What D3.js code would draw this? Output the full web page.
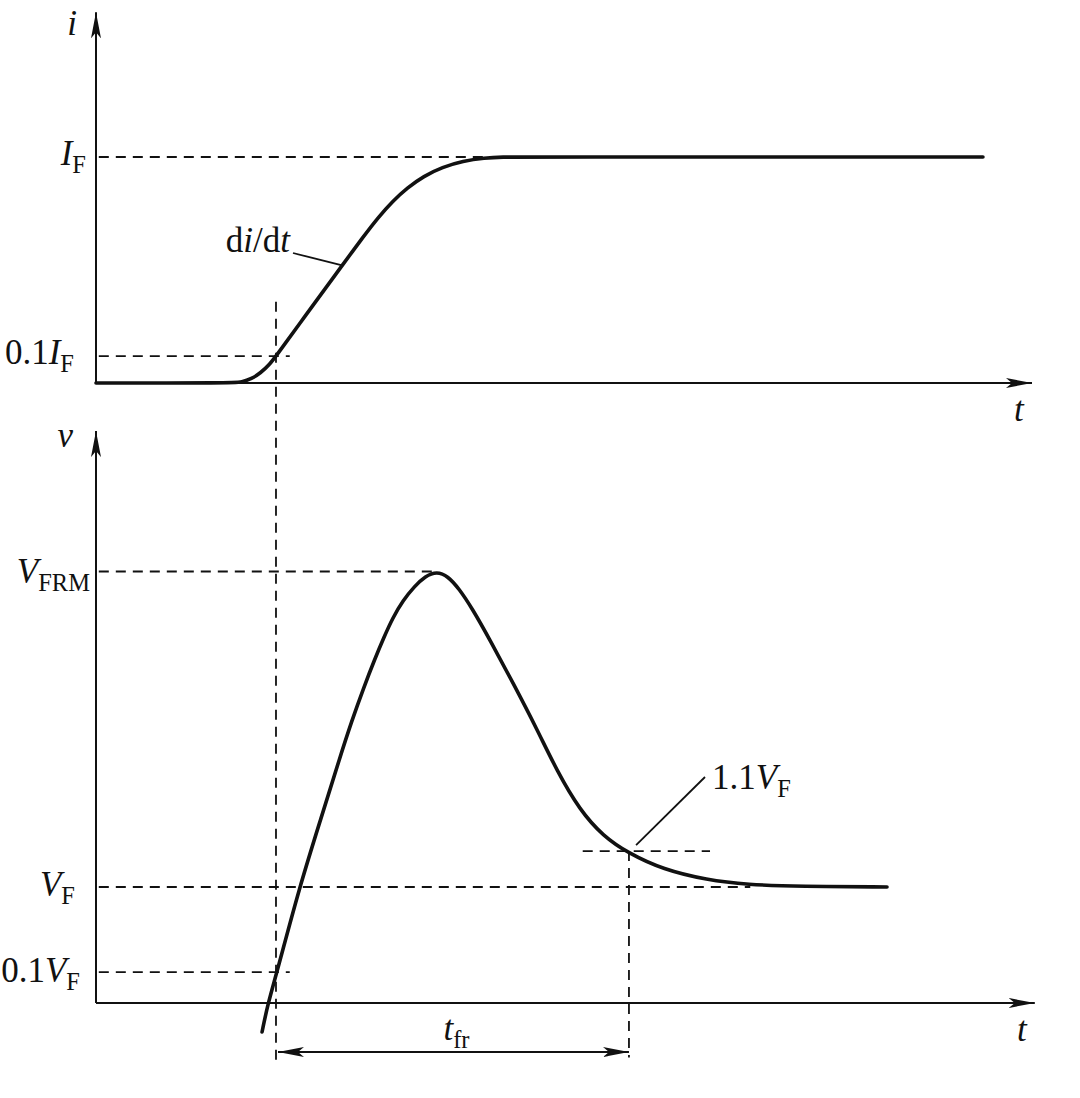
<!DOCTYPE html>
<html>
<head>
<meta charset="utf-8">
<script src="https://cdn.jsdelivr.net/npm/d3@7"></script>
<style>
  html, body { margin: 0; padding: 0; background: #fff; }
  svg { display: block; }
  text { font-family: "Liberation Serif", "DejaVu Serif", serif; fill: #111; }
</style>
</head>
<body>
<svg id="chart" width="1080" height="1098"></svg>
<script>
// ---------------- data (time in arbitrary units, 0..100 along the t axis) ----------------
// current waveform i(t), normalised to I_F = 1
const currentT = [0, 14.5, 15.6, 16.6, 17.6, 18.5, 19.23, 21.79, 24.68, 26.07, 28.53, 30.2, 31.7, 33.3, 35.0, 37.0, 39.2, 41.5, 43.5, 45.5, 94.76];
const currentI = [0, 0, 0.004, 0.018, 0.045, 0.08, 0.119, 0.265, 0.428, 0.507, 0.646, 0.735, 0.805, 0.865, 0.915, 0.955, 0.982, 0.996, 1, 1, 1];

// voltage waveform v(t), normalised to V_F = 1
const voltageT = [17.74, 18.38, 19.34, 21.7, 24.11, 26.07, 27.32, 28.56, 29.81, 30.75, 31.7, 32.8, 34.0, 35.2, 36.4, 37.6, 38.8, 40.2, 42.09, 44.55, 47.12, 49.25, 51.71, 54.17, 56.84, 60.58, 65.28, 69.55, 75.21, 84.51];
const voltageV = [-0.25, 0, 0.267, 0.99, 1.61, 2.12, 2.43, 2.71, 2.97, 3.15, 3.32, 3.47, 3.59, 3.68, 3.72, 3.68, 3.57, 3.40, 3.13, 2.76, 2.36, 2.00, 1.66, 1.44, 1.293, 1.15, 1.06, 1.02, 1.005, 1.0];

// reference levels (tick labels) of the current panel
const iLevelNames  = ["I_F", "0.1I_F"];
const iLevelValues = [1, 0.119];
const iLevelEndT   = [43.16, 20.7];

// reference levels (tick labels) of the voltage panel
const vLevelNames  = ["V_FRM", "V_F", "0.1V_F"];
const vLevelValues = [3.72, 1, 0.267];
const vLevelEndT   = [36.4, 69.9, 20.7];

// 1.1 V_F marker
const v11Level = 1.31;
const v11Range = [52.0, 65.6];

// forward recovery time interval
const tfrStart = 19.23;
const tfrEnd   = 56.94;

// axis extents
const iAxisMax = 1.64;
const vAxisMax = 4.93;

// ---------------- scales ----------------
const svg = d3.select("#chart");
svg.append("rect").attr("width", 1080).attr("height", 1098).attr("fill", "#fff");

const x  = d3.scaleLinear().domain([0, 100]).range([96, 1032]);
const yI = d3.scaleLinear().domain([0, 1]).range([383, 157]);
const yV = d3.scaleLinear().domain([0, 1]).range([1003, 887]);

const ink = "#111";

// arrow marker
const defs = svg.append("defs");
defs.append("marker")
  .attr("id", "arr")
  .attr("viewBox", "0 0 26 12")
  .attr("refX", 26).attr("refY", 6)
  .attr("markerWidth", 26).attr("markerHeight", 12)
  .attr("markerUnits", "userSpaceOnUse")
  .attr("orient", "auto-start-reverse")
  .append("path")
  .attr("d", "M0,1 L26,6 L0,11 L6,6 Z")
  .attr("fill", ink);

// ---------------- helpers ----------------
function label(g, px, py, anchor, parts, size) {
  const fs = size || 35;
  const t = g.append("text")
    .attr("x", px).attr("y", py)
    .attr("text-anchor", anchor)
    .attr("font-size", fs);
  let shift = 0;
  parts.forEach(p => {
    const ts = t.append("tspan").text(p.s);
    if (p.it) ts.attr("font-style", "italic");
    if (p.sub) {
      ts.attr("font-size", fs * 0.7).attr("dy", 8 - shift);
      shift = 8;
    } else if (shift) {
      ts.attr("dy", -shift);
      shift = 0;
    }
  });
  return t;
}
function parseName(name) {
  const m = name.match(/^([0-9.]*)([A-Za-z])_(.+)$/);
  const parts = [];
  if (m[1]) parts.push({ s: m[1] });
  parts.push({ s: m[2], it: true });
  parts.push({ s: m[3], sub: true });
  return parts;
}
function dashH(g, t0, t1, yPix) {
  g.append("line")
    .attr("x1", x(t0)).attr("x2", x(t1))
    .attr("y1", yPix).attr("y2", yPix)
    .attr("stroke", ink).attr("stroke-width", 1.8)
    .attr("stroke-dasharray", "10,7");
}
function dashV(g, t, y0, y1) {
  g.append("line")
    .attr("x1", x(t)).attr("x2", x(t))
    .attr("y1", y0).attr("y2", y1)
    .attr("stroke", ink).attr("stroke-width", 1.8)
    .attr("stroke-dasharray", "10,7");
}

const g = svg.append("g");

// ---------------- axes ----------------
g.append("line").attr("x1", x(0)).attr("y1", yI(0)).attr("x2", x(0)).attr("y2", yI(iAxisMax))
  .attr("stroke", ink).attr("stroke-width", 2).attr("marker-end", "url(#arr)");
g.append("line").attr("x1", x(0)).attr("y1", yI(0)).attr("x2", x(100)).attr("y2", yI(0))
  .attr("stroke", ink).attr("stroke-width", 2).attr("marker-end", "url(#arr)");
g.append("line").attr("x1", x(0)).attr("y1", yV(0)).attr("x2", x(0)).attr("y2", yV(vAxisMax))
  .attr("stroke", ink).attr("stroke-width", 2).attr("marker-end", "url(#arr)");
g.append("line").attr("x1", x(0)).attr("y1", yV(0)).attr("x2", x(100.3)).attr("y2", yV(0))
  .attr("stroke", ink).attr("stroke-width", 2).attr("marker-end", "url(#arr)");

// axis names
label(g, x(0) - 19, yI(iAxisMax) + 23, "end", [{ s: "i", it: true }]);
label(g, x(0) - 23, yV(vAxisMax) + 16, "end", [{ s: "v", it: true }]);
label(g, x(100) - 18, yI(0) + 38, "start", [{ s: "t", it: true }]);
label(g, x(100) - 15, yV(0) + 38, "start", [{ s: "t", it: true }]);

// ---------------- reference dashed lines ----------------
iLevelValues.forEach((v, k) => dashH(g, 0.3, iLevelEndT[k], yI(v)));
vLevelValues.forEach((v, k) => dashH(g, 0.3, vLevelEndT[k], yV(v)));
dashH(g, v11Range[0], v11Range[1], yV(v11Level));
dashV(g, tfrStart, yI(0.36), yV(-0.53));
dashV(g, tfrEnd, yV(v11Level), yV(-0.47));

// level labels
const iLabelX = [86, 74];
iLevelNames.forEach((n, k) => label(g, iLabelX[k], yI(iLevelValues[k]) + 8, "end", parseName(n)));
const vLabelX = [90, 75, 80];
const vLabelDy = [12, 9, 10];
vLevelNames.forEach((n, k) => label(g, vLabelX[k], yV(vLevelValues[k]) + vLabelDy[k], "end", parseName(n)));

// ---------------- curves ----------------
const lineI = d3.line().x((d, k) => x(currentT[k])).y(d => yI(d)).curve(d3.curveBasis);
g.append("path").attr("d", lineI(currentI))
  .attr("fill", "none").attr("stroke", ink).attr("stroke-width", 3.6)
  .attr("stroke-linejoin", "round").attr("stroke-linecap", "round");

const lineV = d3.line().x((d, k) => x(voltageT[k])).y(d => yV(d)).curve(d3.curveBasis);
g.append("path").attr("d", lineV(voltageV))
  .attr("fill", "none").attr("stroke", ink).attr("stroke-width", 3.6)
  .attr("stroke-linejoin", "round").attr("stroke-linecap", "round");

// ---------------- annotations ----------------
label(g, 290, 252, "end", [{ s: "d" }, { s: "i", it: true }, { s: "/d" }, { s: "t", it: true }]);
g.append("line").attr("x1", 293).attr("y1", 253).attr("x2", x(26.3)).attr("y2", yI(0.52))
  .attr("stroke", ink).attr("stroke-width", 1.8);

label(g, 712, 789, "start", [{ s: "1.1" }, { s: "V", it: true }, { s: "F", sub: true }]);
g.append("line").attr("x1", x(57.7)).attr("y1", yV(v11Level) - 6).attr("x2", 705).attr("y2", 777)
  .attr("stroke", ink).attr("stroke-width", 1.8);

const yArr = 1052;
g.append("line").attr("x1", x(tfrStart) + 2).attr("x2", x(tfrEnd)).attr("y1", yArr).attr("y2", yArr)
  .attr("stroke", ink).attr("stroke-width", 2)
  .attr("marker-start", "url(#arr)").attr("marker-end", "url(#arr)");
label(g, (x(tfrStart) + x(tfrEnd)) / 2 + 4, 1040, "middle", [{ s: "t", it: true }, { s: "fr", sub: true }]);
</script>
</body>
</html>
